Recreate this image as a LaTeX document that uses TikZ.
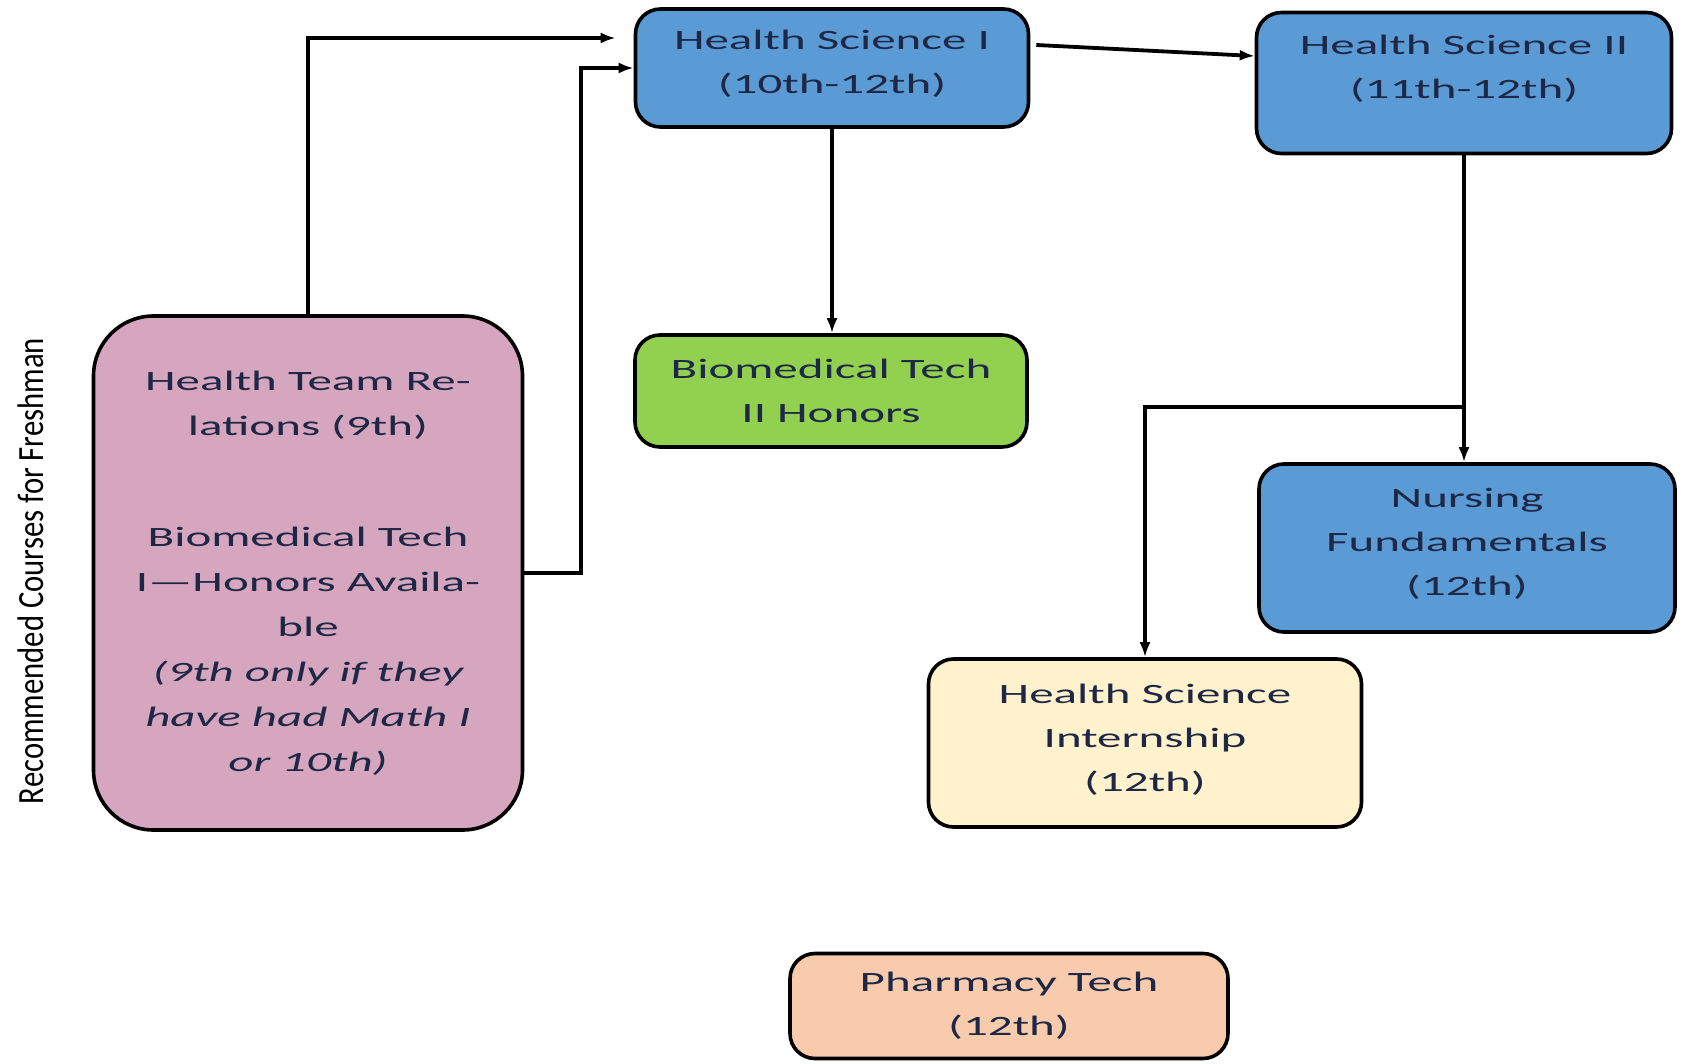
\documentclass[tikz,border=0pt]{standalone}
\usepackage{fontspec}
\usepackage{tikz}
\usetikzlibrary{positioning,calc,arrows.meta}
\newfontfamily\boxfont[FakeStretch=1.75]{Carlito}
\newfontfamily\sidefont[FakeStretch=0.83]{Carlito}
\definecolor{hsblue}{RGB}{91,155,213}
\definecolor{bmgreen}{RGB}{146,208,80}
\definecolor{frpink}{RGB}{213,166,189}
\definecolor{inyellow}{RGB}{255,242,204}
\definecolor{phpeach}{RGB}{248,203,173}
\definecolor{txtnavy}{RGB}{30,40,70}
\newcommand{\padb}[1]{\rule[-#1]{0pt}{0pt}}

\begin{document}
\begin{tikzpicture}[x=1pt, y=-1pt,
        block/.style={rectangle, draw=black, line width=3.6pt, rounded corners=25pt, text=txtnavy, align=center, inner sep=0pt, font=\boxfont\fontsize{28}{44}\selectfont},
        line/.style={draw, line width=3.8pt, -{Latex[length=15pt,width=11pt]}}]
        \useasboundingbox (0,0) rectangle (1684,1064);

        \node [block, fill=hsblue, minimum width=393pt, minimum height=118pt] (hsone) at (832,68) {Health Science I\\(10th-12th)\padb{13pt}};
        \node [block, fill=hsblue, minimum width=415pt, minimum height=141pt] (hstwo) at (1464,83) {Health Science II\\(11th-12th)\padb{33pt}};
        \node [block, fill=bmgreen, minimum width=392pt, minimum height=112pt] (biotwo) at (831,391) {Biomedical Tech\\II Honors};
        \node [block, fill=hsblue, minimum width=416pt, minimum height=168pt] (nursing) at (1467,548) {Nursing\\Fundamentals\\(12th)\padb{13pt}};
        \node [block, fill=inyellow, minimum width=433pt, minimum height=168pt] (intern) at (1145,743) {Health Science\\Internship\\(12th)\padb{11pt}};
        \node [block, fill=phpeach, minimum width=438pt, minimum height=105pt] (pharm) at (1009,1006) {Pharmacy Tech\\(12th)};
        \node [block, fill=frpink, rounded corners=60pt, minimum width=429pt, minimum height=514pt, font=\boxfont\fontsize{28}{45}\selectfont] (fresh) at (308,573)
            {Health Team Re-\\lations (9th)\\[66pt]Biomedical Tech\\I—Honors Availa-\\ble\\\itshape(9th only if they\\\itshape have had Math I\\\itshape or 10th)};
        \node [rotate=90, text=black, font=\sidefont\fontsize{37}{40}\selectfont] (side) at (31,571) {Recommended Courses for Freshman};

        \coordinate (split) at ($(hstwo.south)+(0,252)$);

        \path [line] (fresh.north) |- ($(hsone.west)+(-18,-30)$);
        \path [line] (fresh.east) -- ++(57,0) |- (hsone.west);
        \path [line] ($(hsone.east)+(6,-23)$) -- ($(hstwo.west)+(0,-27)$);
        \path [line] (hsone.south) -- (hsone.south |- biotwo.north);
        \draw [line width=3.8pt] (hstwo.south) -- (split);
        \path [line] (split) -- (split |- nursing.north);
        \path [line] (split) -| (intern.north); % branch to internship
    \end{tikzpicture}
\end{document}
